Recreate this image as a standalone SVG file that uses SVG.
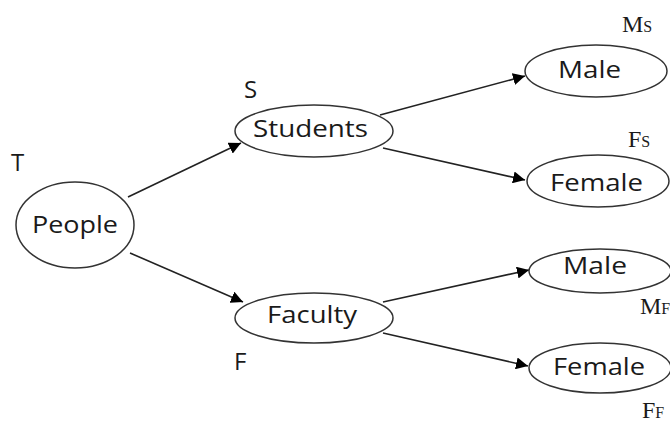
<svg xmlns="http://www.w3.org/2000/svg" width="670" height="425" viewBox="0 0 670 425">
<defs>
<marker id="ah" viewBox="0 0 10 10" refX="10" refY="5" markerWidth="12" markerHeight="12" markerUnits="userSpaceOnUse" orient="auto">
<path d="M0,0 L10,5 L0,10 z" fill="#000"/>
</marker>
<style>
.n{fill:#fff;stroke:#333;stroke-width:1.5}
.t{font-family:"Open Sans","Liberation Sans",sans-serif;font-size:24px;fill:#1a1a1a;text-anchor:middle}
.l{font-family:"Open Sans","Liberation Sans",sans-serif;font-size:24px;fill:#1a1a1a}
.s{font-family:"Liberation Serif",serif;font-size:24px;fill:#1a1a1a}
.c{stroke:#222;stroke-width:1.6;fill:none;marker-end:url(#ah)}
</style>
</defs>
<rect width="670" height="425" fill="#fff"/>
<g id="connectors">
<line class="c" x1="128" y1="197" x2="241" y2="143"/>
<line class="c" x1="130" y1="253" x2="243" y2="302"/>
<line class="c" x1="380" y1="115" x2="525" y2="76"/>
<line class="c" x1="383" y1="148" x2="525" y2="180"/>
<line class="c" x1="383" y1="302" x2="529" y2="270"/>
<line class="c" x1="383" y1="333" x2="528" y2="366"/>
</g>
<g id="people">
<ellipse class="n" cx="75" cy="225" rx="59" ry="43"/>
<text class="t" x="75" y="233" textLength="86" lengthAdjust="spacingAndGlyphs">People</text>
<text class="l" x="11" y="171">T</text>
</g>
<g id="students">
<ellipse class="n" cx="314" cy="131" rx="79" ry="26"/>
<text class="t" x="310.5" y="137" textLength="115" lengthAdjust="spacingAndGlyphs">Students</text>
<text class="l" x="244" y="98">S</text>
</g>
<g id="faculty">
<ellipse class="n" cx="314" cy="318" rx="79" ry="25"/>
<text class="t" x="312" y="323" textLength="90" lengthAdjust="spacingAndGlyphs">Faculty</text>
<text class="l" x="234" y="370">F</text>
</g>
<g id="male-s">
<ellipse class="n" cx="596" cy="71" rx="71" ry="26"/>
<text class="t" x="589.5" y="78" textLength="63" lengthAdjust="spacingAndGlyphs">Male</text>
<text class="s" x="622" y="32">M<tspan font-size="16">S</tspan></text>
</g>
<g id="female-s">
<ellipse class="n" cx="598" cy="181" rx="71" ry="26"/>
<text class="t" x="596.5" y="191" textLength="93" lengthAdjust="spacingAndGlyphs">Female</text>
<text class="s" x="628" y="147">F<tspan font-size="16">S</tspan></text>
</g>
<g id="male-f">
<ellipse class="n" cx="600" cy="271" rx="71" ry="22"/>
<text class="t" x="595" y="274" textLength="64" lengthAdjust="spacingAndGlyphs">Male</text>
<text class="s" x="640" y="314">M<tspan font-size="16">F</tspan></text>
</g>
<g id="female-f">
<ellipse class="n" cx="600" cy="368" rx="71" ry="25"/>
<text class="t" x="599" y="375" textLength="92" lengthAdjust="spacingAndGlyphs">Female</text>
<text class="s" x="642" y="418">F<tspan font-size="16">F</tspan></text>
</g>
</svg>
